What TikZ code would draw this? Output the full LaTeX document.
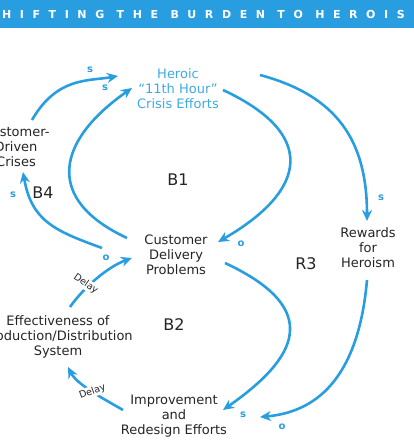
\documentclass[tikz,border=0pt]{standalone}
\usepackage{fontspec}
\setmainfont{DejaVu Sans}
\newfontfamily\bannerfont[LetterSpace=78]{DejaVu Sans}
\usetikzlibrary{calc,arrows.meta}
\definecolor{loopblue}{RGB}{40,158,224}
\definecolor{heroblue}{RGB}{62,170,226}
\definecolor{inkgray}{RGB}{38,36,38}

\begin{document}
\begin{tikzpicture}[x=1pt, y=1pt,
  var/.style={align=center, text=inkgray, font=\fontsize{13}{15}\selectfont, inner sep=2pt},
  flow/.style={loopblue, line width=2.6pt, -{Stealth[length=11pt,width=10pt,inset=3.5pt]}},
  pol/.style={text=loopblue, font=\fontsize{10}{10}\selectfont\bfseries, inner sep=1pt},
  loopname/.style={text=inkgray, font=\fontsize{16}{16}\selectfont},
  delaylab/.style={text=inkgray, font=\fontsize{9.5}{9.5}\selectfont, fill=white, inner sep=1pt}]

\useasboundingbox (0,0) rectangle (414,445);
\clip (0,0) rectangle (414,445);

% title band
\fill[loopblue] (0,417) rectangle (414,445);
\node[anchor=west, inner sep=0pt, text=white, font={\bannerfont\bfseries\fontsize{11}{11}\selectfont}] (title) at (-14.5,431) {SHIFTING THE BURDEN TO HEROISM};

% variables
\node[var, text=heroblue] (heroic) at (178,356) {Heroic\\“11th Hour”\\Crisis Efforts};
\node[var] (crises) at (16,298) {Customer-\\Driven\\Crises};
\node[var] (cdp) at (176,190) {Customer\\Delivery\\Problems};
\node[var] (rewards) at (368,197) {Rewards\\for\\Heroism};
\node[var] (effect) at (58,108) {Effectiveness of\\Production/Distribution\\System};
\node[var] (improve) at (174,29) {Improvement\\and\\Redesign Efforts};

% loop names
\node[loopname] (b1) at (178,265) {B1};
\node[loopname] (b4) at (43,252) {B4};
\node[loopname] (r3) at (306,181) {R3};
\node[loopname] (b2) at (174,120) {B2};

% links
\draw[flow] ([shift={(16,27)}]crises.center) to[out=60, in=190, out distance=50pt, in distance=30pt] ([shift={(-60,13)}]heroic.center);
\draw[flow] ([shift={(-49,17)}]cdp.center) to[out=155, in=215, distance=92pt] ([shift={(-46,1)}]heroic.center);
\draw[flow] ([shift={(-74,7)}]cdp.center) to[out=160, in=280, distance=50pt] ([shift={(7,-25)}]crises.center);
\draw[flow] ([shift={(45,-1)}]heroic.center) to[out=-25, in=30, distance=104pt] ([shift={(42,13)}]cdp.center);
\draw[flow] ([shift={(82,14)}]heroic.center) to[out=-15, in=90, distance=80pt] ([shift={(-1,27)}]rewards.center);
\draw[flow] ([shift={(-1,-32)}]rewards.center) to[out=-95, in=5, out distance=80pt, in distance=70pt] ([shift={(86,-1)}]improve.center);
\draw[flow] ([shift={(49,-8)}]cdp.center) to[out=-25, in=35, out distance=110pt, in distance=90pt] ([shift={(49,6)}]improve.center);
\draw[flow] ([shift={(-51,6)}]improve.center) to[out=150, in=-63, distance=20pt] node[delaylab, rotate=20] (delay2) {Delay} ([shift={(10,-30)}]effect.center);
\draw[flow] ([shift={(12,30)}]effect.center) to[out=55, in=200, distance=25pt] node[delaylab, rotate=-35, pos=0.33, xshift=-3pt, yshift=2pt] (delay1) {Delay} ([shift={(-44,-3)}]cdp.center);

% polarities
\node[pol] (p1) at (90,375) {s};
\node[pol] (p2) at (105,357) {s};
\node[pol] (p3) at (13,250) {s};
\node[pol] (p4) at (106,187) {o};
\node[pol] (p5) at (241,201) {o};
\node[pol] (p6) at (381,247) {s};
\node[pol] (p7) at (243,30) {s};
\node[pol] (p8) at (282,18) {o};

\end{tikzpicture}
\end{document}
